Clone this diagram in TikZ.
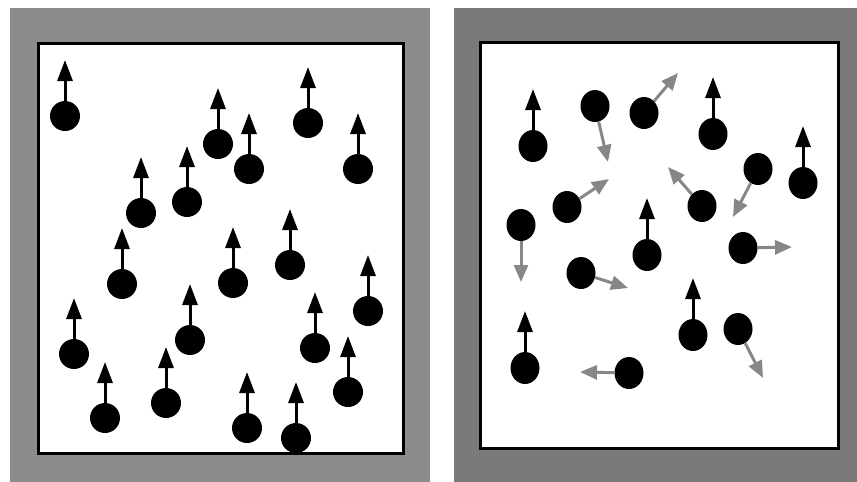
\documentclass[tikz,border=0pt]{standalone}
\usepackage{tikz}
\usetikzlibrary{arrows.meta, shapes.geometric}
\definecolor{leftgrey}{RGB}{140,140,140}
\definecolor{rightgrey}{RGB}{122,122,122}
\definecolor{kickgrey}{RGB}{135,135,135}

\begin{document}
\begin{tikzpicture}[x=1pt, y=-1pt,
  ball/.style={circle, fill=black, inner sep=0pt, minimum size=30pt},
  oval/.style={ellipse, fill=black, inner sep=0pt, minimum width=29pt, minimum height=32pt},
  spinup/.style={-{Triangle[width=15pt,length=21pt]}, line width=3pt, black},
  kick/.style={-{Triangle[width=14pt,length=17pt]}, line width=3pt, kickgrey},
  box/.style={line width=3pt, fill=white}]
\useasboundingbox (0,0) rectangle (857,482);
% aligned panel
\fill[leftgrey] (10,8) rectangle (430,482);
\draw[box] (38,43) rectangle (403,453);
\foreach \x/\y [count=\i] in {65/116, 218/144, 249/169, 308/123, 358/169,
    141/213, 187/202, 122/284, 233/283, 290/265, 368/311, 190/340,
    315/348, 74/354, 105/418, 166/403, 348/392, 247/428, 296/438} {
  \node[ball] (l\i) at (\x,\y) {};
  \coordinate (lt\i) at (\x,\y-56);
  \draw[spinup] (l\i) -- (lt\i);
}
% random panel
\fill[rightgrey] (454,8) rectangle (857,482);
\draw[box] (480,42) rectangle (838,448);
\foreach \x/\y [count=\i] in {533/146, 713/134, 803/183, 647/255, 693/335, 525/368} {
  \node[oval] (r\i) at (\x,\y) {};
  \coordinate (rt\i) at (\x,\y-57);
  \draw[spinup] (r\i) -- (rt\i);
}
\foreach \x/\y/\u/\v [count=\i] in {595/106/608/162, 644/113/678/73,
    758/169/733/217, 567/207/609/179, 702/206/668/167, 521/225/521/282,
    743/248/792/247, 581/273/628/288, 738/329/763/378, 629/373/580/372} {
  \node[oval] (s\i) at (\x,\y) {};
  \coordinate (st\i) at (\u,\v);
  \draw[kick] (s\i) -- (st\i);
}
\end{tikzpicture}
\end{document}
